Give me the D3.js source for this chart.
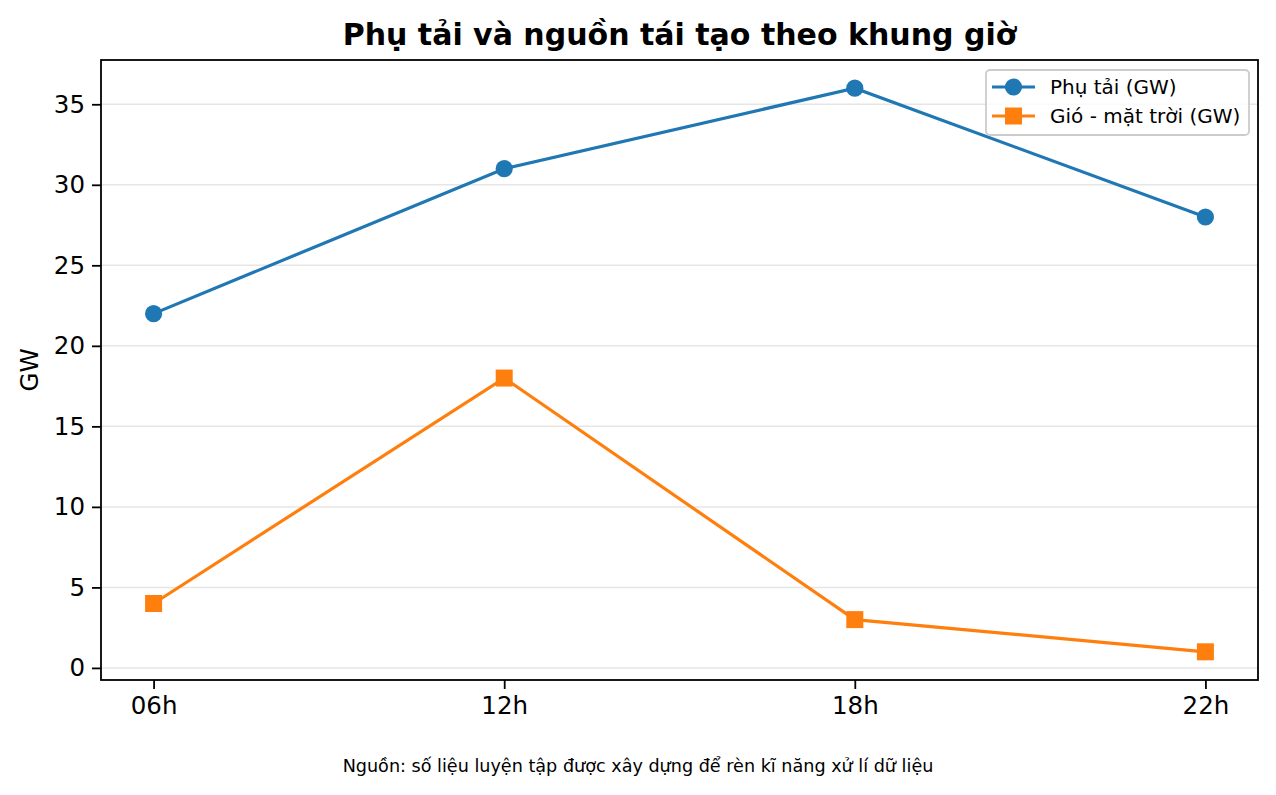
<!DOCTYPE html>
<html>
<head>
<meta charset="utf-8">
<script src="https://cdn.jsdelivr.net/npm/d3@7"></script>
<style>
html,body{margin:0;padding:0;background:#fff;}
svg{display:block;font-family:"DejaVu Sans",sans-serif;}
</style>
</head>
<body>
<svg id="chart" width="1276" height="795"></svg>
<script>
const categories = ["06h", "12h", "18h", "22h"];
const loadGW = [22, 31, 36, 28];
const renewGW = [4, 18, 3, 1];
const yTicks = [0, 5, 10, 15, 20, 25, 30, 35];
const seriesNames = ["Phụ tải (GW)", "Gió - mặt trời (GW)"];
const titleText = "Phụ tải và nguồn tái tạo theo khung giờ";
const yLabelText = "GW";
const footerText = "Nguồn: số liệu luyện tập được xây dựng để rèn kĩ năng xử lí dữ liệu";

const W = 1276, H = 795;
const m = {left: 101, right: 1258, top: 60, bottom: 680};
const svg = d3.select("#chart");
const FS = 24.5;

const x = d3.scaleLinear().domain([-0.15, categories.length - 1 + 0.15]).range([m.left, m.right]);
const y = d3.scaleLinear().domain([-0.75, 37.75]).range([m.bottom, m.top]);

// grid
svg.append("g").selectAll("line").data(yTicks).join("line")
  .attr("x1", m.left).attr("x2", m.right)
  .attr("y1", d => y(d)).attr("y2", d => y(d))
  .attr("stroke", "#e6e6e6").attr("stroke-width", 1.5);

// axes
const xAxis = d3.axisBottom(x).tickValues(d3.range(categories.length))
  .tickFormat(i => categories[i]).tickSize(9).tickPadding(8);
const gx = svg.append("g").attr("transform", `translate(0,${m.bottom})`).call(xAxis);
gx.select(".domain").remove();
gx.selectAll("line").attr("stroke", "#000").attr("stroke-width", 1.8);
gx.selectAll("text").attr("font-size", FS).attr("fill", "#000")
  .attr("font-family", "DejaVu Sans");

const yAxis = d3.axisLeft(y).tickValues(yTicks).tickSize(9).tickPadding(7);
const gy = svg.append("g").attr("transform", `translate(${m.left},0)`).call(yAxis);
gy.select(".domain").remove();
gy.selectAll("line").attr("stroke", "#000").attr("stroke-width", 1.8);
gy.selectAll("text").attr("font-size", FS).attr("fill", "#000")
  .attr("font-family", "DejaVu Sans");

// frame
svg.append("rect").attr("x", m.left).attr("y", m.top)
  .attr("width", m.right - m.left).attr("height", m.bottom - m.top)
  .attr("fill", "none").attr("stroke", "#000").attr("stroke-width", 1.8);

const line = d3.line().x((d, i) => x(i)).y(d => y(d));
const colors = ["#1f77b4", "#ff7f0e"];
const R = 8.6, s = 17;

// series 1
svg.append("path").datum(loadGW).attr("d", line)
  .attr("fill", "none").attr("stroke", colors[0]).attr("stroke-width", 3.2);
svg.append("g").selectAll("circle").data(loadGW).join("circle")
  .attr("cx", (d, i) => x(i)).attr("cy", d => y(d)).attr("r", R)
  .attr("fill", colors[0]);

// series 2
svg.append("path").datum(renewGW).attr("d", line)
  .attr("fill", "none").attr("stroke", colors[1]).attr("stroke-width", 3.2);
svg.append("g").selectAll("rect").data(renewGW).join("rect")
  .attr("x", (d, i) => x(i) - s/2).attr("y", d => y(d) - s/2)
  .attr("width", s).attr("height", s).attr("fill", colors[1]);

// title
svg.append("text").attr("x", (m.left + m.right)/2).attr("y", 45)
  .attr("text-anchor", "middle").attr("font-size", 30).attr("font-weight", "bold")
  .text(titleText);

// y label
svg.append("text").attr("transform", `translate(38,${(m.top + m.bottom)/2}) rotate(-90)`)
  .attr("text-anchor", "middle").attr("font-size", FS).text(yLabelText);

// footer
svg.append("text").attr("x", W/2).attr("y", 772).attr("text-anchor", "middle")
  .attr("font-size", 17.6).text(footerText);

// legend
const lg = svg.append("g");
lg.append("rect").attr("x", 986).attr("y", 70).attr("width", 263).attr("height", 65)
  .attr("rx", 4).attr("fill", "#fff").attr("fill-opacity", 0.8)
  .attr("stroke", "#cccccc").attr("stroke-width", 1.8);
const rows = [87, 116];
seriesNames.forEach((name, i) => {
  const yy = rows[i];
  lg.append("line").attr("x1", 992).attr("x2", 1035).attr("y1", yy).attr("y2", yy)
    .attr("stroke", colors[i]).attr("stroke-width", 3.2);
  if (i === 0) {
    lg.append("circle").attr("cx", 1013.5).attr("cy", yy).attr("r", R).attr("fill", colors[i]);
  } else {
    lg.append("rect").attr("x", 1013.5 - s/2).attr("y", yy - s/2).attr("width", s).attr("height", s)
      .attr("fill", colors[i]);
  }
  lg.append("text").attr("x", 1050).attr("y", yy + 7).attr("font-size", 20).text(name);
});
</script>
</body>
</html>
